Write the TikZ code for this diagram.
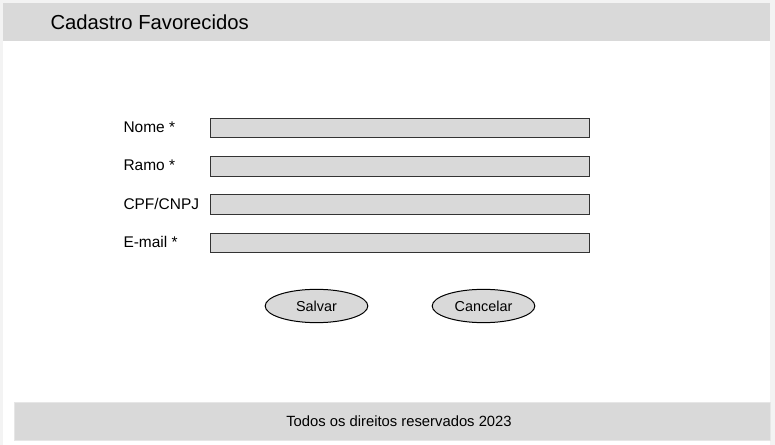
\documentclass[tikz,border=0pt]{standalone}
\usepackage{fontspec}
\setmainfont{Liberation Sans}
\usetikzlibrary{shapes.geometric}
\definecolor{panelgray}{HTML}{D9D9D9}
\definecolor{edgegray}{HTML}{F3F3F3}
\tikzset{every picture/.style={line width=0.75pt}}
\tikzset{
  fieldbox/.style={draw={rgb, 255:red, 51; green, 51; blue, 51}, fill=panelgray, minimum width=284.25pt, minimum height=14.5pt, inner sep=0pt, anchor=north west},
  fieldlabel/.style={anchor=west, inner sep=0.75pt, font=\fontsize{11.6}{14}\selectfont},
  button/.style={ellipse, draw, fill=panelgray, minimum width=77pt, minimum height=25pt, inner sep=0pt, font=\fontsize{10.8}{13}\selectfont}
}
\begin{document}
\begin{tikzpicture}[x=0.75pt,y=0.75pt,yscale=-1,xscale=1]
		\useasboundingbox (0,0) rectangle (775,445);
		%Shape: Rectangle (page)
		\fill [edgegray] (0,0) rectangle (775,445);
		\fill [white] (3,3) rectangle (770,445);
		
		%Shape: Rectangle (header)
		\draw [draw=none, fill=panelgray] (3,3) -- (770,3) -- (770,41) -- (3,41) -- cycle ;
		%Shape: Rectangle (footer)
		\draw [draw={rgb, 255:red, 230; green, 230; blue, 230}, line width=0.5pt, fill=panelgray] (14,402) -- (770,402) -- (770,440) -- (14,440) -- cycle ;
		
		%Shape: Rectangle (fields)
		\node [fieldbox] (nomeBox) at (210,118) {};
		\node [fieldbox] (ramoBox) at (210,156.5) {};
		\node [fieldbox] (cpfBox) at (210,194.5) {};
		\node [fieldbox] (emailBox) at (210,233) {};
		
		%Shape: Ellipse (buttons)
		\node [button] (salvar) at (316.5,306) {Salvar};
		\node [button] (cancelar) at (483.5,306) {Cancelar};
		
		\draw (49,22) node [anchor=west][inner sep=0.75pt] (title) {\fontsize{15.2}{18}\selectfont Cadastro Favorecidos};
		\draw (122,127) node [fieldlabel] (nome) {Nome *};
		\draw (122,165.5) node [fieldlabel] (ramo) {Ramo *};
		\draw (122,203.5) node [fieldlabel] (cpf) {CPF/CNPJ};
		\draw (122,241.5) node [fieldlabel] (email) {E-mail *};
		\draw (399,421) node [inner sep=0.75pt] (rodape) {\fontsize{11.1}{13}\selectfont Todos os direitos reservados 2023};
		
	\end{tikzpicture}
\end{document}
